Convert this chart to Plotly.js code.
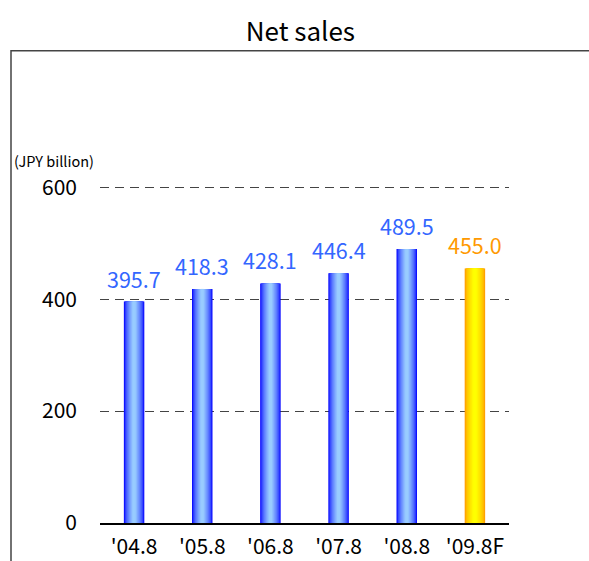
<!DOCTYPE html>
<html>
<head>
<meta charset="utf-8">
<script src="https://cdn.plot.ly/plotly-3.0.1.min.js"></script>
<style>html,body{margin:0;padding:0;background:#fff;}#chart{width:589px;height:561px;}</style>
</head>
<body>
<div id="chart"></div>
<script>
// ---- data ----
const categories = ["'04.8", "'05.8", "'06.8", "'07.8", "'08.8", "'09.8F"];
const netSales = [395.7, 418.3, 428.1, 446.4, 489.5, 455.0];
const isForecast = [false, false, false, false, false, true];
const yTicks = [0, 200, 400, 600];

// ---- styling ----
const FONT = "'Noto Sans CJK JP', sans-serif";
const blueEdge = [0, 0, 255], blueCenter = [153, 204, 255];
const orangeEdge = [255, 153, 0], orangeCenter = [255, 255, 0];
const labelBlue = '#3366FF', labelOrange = '#FF9900';
const BAR_W = 0.3, STEPS = 14;

function mix(a, b, t) {
  return 'rgb(' + a.map((v, i) => Math.round(v + (b[i] - v) * t)).join(',') + ')';
}

const traces = [];
for (let s = 0; s < STEPS; s++) {
  const f = 1 - s / STEPS;          // fraction of full width
  const t = Math.min(1, Math.pow(1 - f, 0.6) * 1.1);
  traces.push({
    type: 'bar',
    x: categories,
    y: netSales,
    width: BAR_W * f,
    marker: {
      color: isForecast.map(fc => fc ? mix(orangeEdge, orangeCenter, t) : mix(blueEdge, blueCenter, t)),
      line: {width: 0}
    },
    hoverinfo: 'skip',
    showlegend: false
  });
}

const annotations = categories.map((c, i) => ({
  x: c, y: netSales[i], xref: 'x', yref: 'y',
  text: netSales[i].toFixed(1),
  showarrow: false, yanchor: 'bottom', yshift: 6,
  font: {family: FONT, size: 21.5, color: isForecast[i] ? labelOrange : labelBlue}
}));
annotations.push({
  xref: 'paper', yref: 'paper', x: -0.215, y: 1.073,
  xanchor: 'left', yanchor: 'middle', showarrow: false,
  text: '(JPY billion)', font: {family: FONT, size: 14.5, color: '#000'}
});

const layout = {
  width: 589, height: 561,
  margin: {l: 100, r: 80, t: 184.5, b: 37.5},
  paper_bgcolor: '#fff', plot_bgcolor: 'rgba(0,0,0,0)',
  barmode: 'overlay',
  showlegend: false,
  title: {
    text: 'Net sales', x: 0.51, xanchor: 'center', y: 1 - 32 / 561, yanchor: 'middle',
    yref: 'container', font: {family: FONT, size: 26, color: '#000'}
  },
  xaxis: {
    type: 'category', showgrid: false, showline: true, linecolor: '#000', linewidth: 1.5,
    ticks: '', tickfont: {family: FONT, size: 21, color: '#000'}, ticklabelstandoff: 4,
    fixedrange: true
  },
  yaxis: {
    range: [0, 604], tickvals: yTicks, ticktext: yTicks.map(String),
    showgrid: true, gridcolor: '#444', gridwidth: 1, griddash: '9px,6px',
    zeroline: false, showline: false, ticks: '',
    tickfont: {family: FONT, size: 21, color: '#000'}, ticklabelstandoff: 22,
    fixedrange: true
  },
  shapes: [{
    type: 'rect', xref: 'paper', yref: 'paper',
    x0: -0.2176, x1: 1.6, y0: -0.3, y1: 1.397,
    line: {color: '#444', width: 1.5}, fillcolor: 'rgba(0,0,0,0)', layer: 'below'
  }],
  annotations: annotations
};

Plotly.newPlot('chart', traces, layout, {displayModeBar: false, staticPlot: true});
</script>
</body>
</html>
